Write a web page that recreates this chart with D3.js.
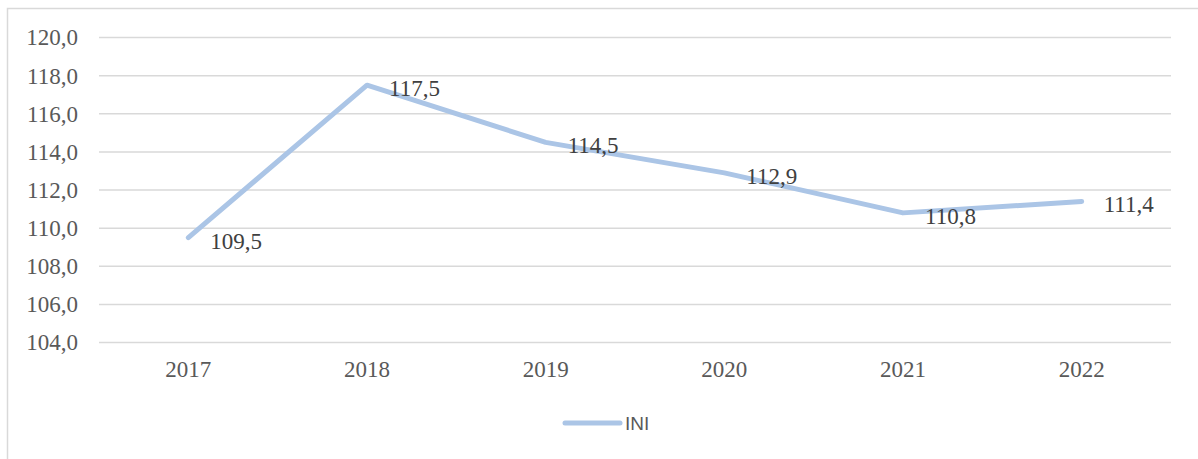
<!DOCTYPE html>
<html>
<head>
<meta charset="utf-8">
<script src="https://cdn.jsdelivr.net/npm/d3@7"></script>
<style>
  body { margin:0; background:#fff; }
  svg { display:block; }
</style>
</head>
<body>
<div id="chart"></div>
<script>
// data
var years = ["2017","2018","2019","2020","2021","2022"];
var ini = [109.5, 117.5, 114.5, 112.9, 110.8, 111.4];
var yTicks = [104,106,108,110,112,114,116,118,120];
var seriesName = "INI";

var W = 1198, H = 459;
var margin = {top:37.5, right:27, bottom:116.5, left:99};
var width = 1171 - margin.left, height = 342.5 - margin.top;

var svg = d3.select("#chart").append("svg")
  .attr("width", W).attr("height", H);

// outer chart border (runs off right/bottom edge)
svg.append("rect")
  .attr("x", 7.5).attr("y", 8.5)
  .attr("width", 1300).attr("height", 600)
  .attr("fill", "none").attr("stroke", "#d9d9d9").attr("stroke-width", 1.5);

var g = svg.append("g")
  .attr("transform", "translate(" + margin.left + "," + margin.top + ")");

var x = d3.scaleBand().domain(years).range([0, width]);
var y = d3.scaleLinear().domain([104, 120]).range([height, 0]);

// gridlines
g.selectAll(".grid").data(yTicks).enter().append("line")
  .attr("x1", 0).attr("x2", width)
  .attr("y1", function(d){ return y(d); })
  .attr("y2", function(d){ return y(d); })
  .attr("stroke", "#d9d9d9").attr("stroke-width", 1.5);

var fmt = function(d){ return d3.format(".1f")(d).replace(".", ","); };

// y axis
var yAxis = g.append("g")
  .call(d3.axisLeft(y).tickValues(yTicks).tickFormat(fmt).tickSize(0).tickPadding(21));
yAxis.select(".domain").remove();
yAxis.selectAll("text")
  .style("font-family", "'Liberation Serif', 'Times New Roman', serif")
  .style("font-size", "23px")
  .attr("fill", "#595959");

// x axis
var xAxis = g.append("g")
  .attr("transform", "translate(0," + height + ")")
  .call(d3.axisBottom(x).tickSize(0).tickPadding(18));
xAxis.select(".domain").remove();
xAxis.selectAll("text")
  .style("font-family", "'Liberation Serif', 'Times New Roman', serif")
  .style("font-size", "23px")
  .attr("fill", "#595959");

var pts = years.map(function(d, i){ return {year:d, v:ini[i]}; });

var line = d3.line()
  .x(function(d){ return x(d.year) + x.bandwidth()/2; })
  .y(function(d){ return y(d.v); });

g.append("path")
  .attr("d", line(pts))
  .attr("fill", "none")
  .attr("stroke", "#abc5e6")
  .attr("stroke-width", 5)
  .attr("stroke-linecap", "round")
  .attr("stroke-linejoin", "round");

// data labels
g.selectAll(".lbl").data(pts).enter().append("text")
  .attr("x", function(d){ return x(d.year) + x.bandwidth()/2 + 22; })
  .attr("y", function(d){ return y(d.v) + 3; })
  .attr("dy", "0.35em")
  .style("font-family", "'Liberation Serif', 'Times New Roman', serif")
  .style("font-size", "23px")
  .attr("fill", "#404040")
  .text(function(d){ return fmt(d.v); });

// legend
var lg = svg.append("g").attr("transform", "translate(565,423)");
lg.append("line")
  .attr("x1", 0).attr("x2", 55).attr("y1", 0).attr("y2", 0)
  .attr("stroke", "#abc5e6").attr("stroke-width", 5)
  .attr("stroke-linecap", "round");
lg.append("text")
  .attr("x", 60).attr("y", 0).attr("dy", "0.35em")
  .style("font-family", "'Liberation Sans', Arial, sans-serif")
  .style("font-size", "19px")
  .attr("fill", "#595959")
  .text(seriesName);
</script>
</body>
</html>
